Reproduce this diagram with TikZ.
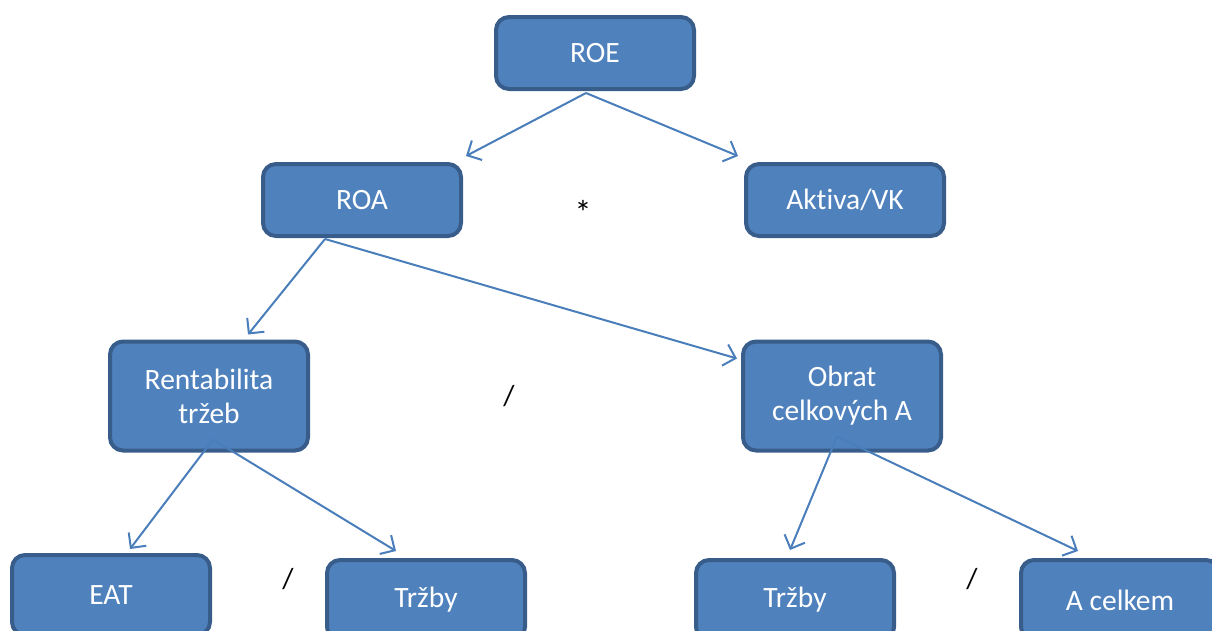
\documentclass[tikz,border=0pt]{standalone}
\usepackage{fontspec}
\setmainfont{Carlito}[Ligatures=NoCommon]
\usetikzlibrary{arrows.meta}
\definecolor{boxfill}{HTML}{4F81BD}
\definecolor{boxline}{HTML}{385D8A}
\definecolor{arrowc}{HTML}{4A7EBB}
\tikzset{
  box/.style={draw=boxline, fill=boxfill, line width=4pt, rounded corners=13pt,
    minimum width=198pt, text=white, align=center,
    font=\fontsize{29.5}{34}\selectfont},
  onebox/.style={box, minimum height=72pt},
  twobox/.style={box, minimum height=109pt},
  lowbox/.style={box, minimum height=80pt},
  conn/.style={draw=arrowc, line width=2pt, -{Straight Barb[length=11pt,width=22pt]}},
  sym/.style={font=\fontsize{29}{34}\selectfont, text=black}
}
\begin{document}
\begin{tikzpicture}[x=1pt,y=-1pt]
\useasboundingbox (0,0) rectangle (1212,630);
\clip (0,0) rectangle (1212,630);
\node[onebox] (roe) at (595,53) {ROE};
\node[onebox] (roa) at (362,200) {ROA};
\node[onebox] (akt) at (845,200) {Aktiva/VK};
\node[twobox] (rt) at (209,396) {Rentabilita\\tržeb};
\node[twobox] (ob) at (842,396) {Obrat\\celkových A};
\node[lowbox] (eat) at (111,595) {EAT};
\node[lowbox] (trl) at (426,600) {Tržby};
\node[lowbox] (trr) at (795,600) {Tržby};
\node[lowbox] (ac) at (1120,600) {A celkem};
\node[sym, font=\fontsize{34}{34}\selectfont] (s1) at (583,212) {*};
\node[sym] (s2) at (509,396) {/};
\node[sym] (s3) at (288,579) {/};
\node[sym] (s4) at (972,579) {/};
\draw[conn] ([xshift=-9pt,yshift=-2pt]roe.south) -- ([xshift=3pt,yshift=6pt]roa.north east);
\draw[conn] ([xshift=-9pt,yshift=-2pt]roe.south) -- ([xshift=-6pt,yshift=6pt]akt.north west);
\draw[conn] ([xshift=-37pt,yshift=-1pt]roa.south) -- ([xshift=39pt,yshift=5pt]rt.north);
\draw[conn] ([xshift=-37pt,yshift=-1pt]roa.south) -- ([xshift=-4pt,yshift=-19pt]ob.north west);
\draw[conn] ([xshift=4pt,yshift=13pt]rt.south) -- ([xshift=19pt,yshift=4pt]eat.north);
\draw[conn] ([xshift=4pt,yshift=13pt]rt.south) -- ([xshift=-30pt,yshift=7pt]trl.north);
\draw[conn] ([xshift=-5pt,yshift=16pt]ob.south) -- ([xshift=-5pt,yshift=8pt]trr.north);
\draw[conn] ([xshift=-5pt,yshift=16pt]ob.south) -- ([xshift=-42pt,yshift=7pt]ac.north);
\end{tikzpicture}
\end{document}
